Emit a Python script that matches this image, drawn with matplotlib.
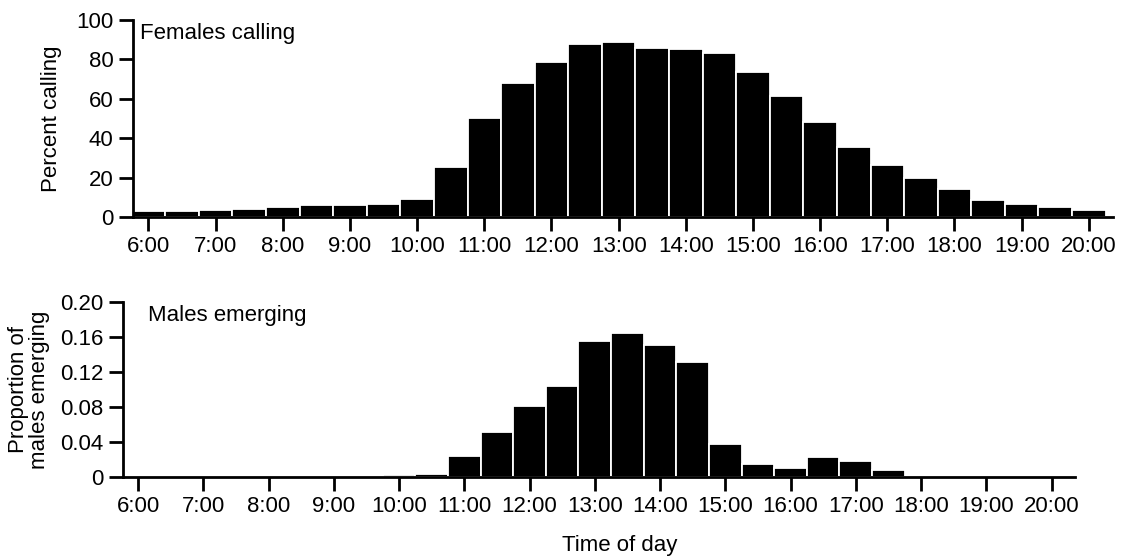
import numpy as np
import matplotlib
matplotlib.use('Agg')
import matplotlib.pyplot as plt
from matplotlib.ticker import FuncFormatter

plt.rcParams['font.family'] = ['Liberation Sans', 'DejaVu Sans']

# half-hour bins from 6:00 to 20:00 (hours)
hours = np.arange(6, 20.01, 0.5)
hour_ticks = list(range(6, 21))
hour_labels = ['%d:00' % h for h in hour_ticks]

females = [3.0, 3.0, 3.4, 4.0, 5.2, 5.9, 5.9, 6.6, 9.0, 25.4, 50.5, 68.0, 78.5,
           88.0, 88.7, 86.0, 85.2, 83.5, 73.4, 61.4, 48.4, 35.4, 26.6, 19.6,
           14.4, 8.6, 6.8, 4.9, 3.7]
males = [0, 0, 0, 0, 0, 0, 0, 0, 0.002, 0.0038, 0.0243, 0.0516, 0.0812,
         0.1036, 0.1552, 0.1647, 0.1507, 0.1317, 0.0372, 0.0144, 0.0102,
         0.0224, 0.0186, 0.0076, 0, 0, 0, 0, 0]

W, H = 1132, 556
fig = plt.figure(figsize=(W / 100, H / 100), dpi=100)

def box(l, r, t, b):
    return [l / W, 1 - b / H, (r - l) / W, (b - t) / H]

ax1 = fig.add_axes(box(133, 1113, 20, 217))
ax2 = fig.add_axes(box(123, 1075, 302, 477))

fs = 16
for ax, vals in [(ax1, females), (ax2, males)]:
    ax.bar(hours, vals, width=0.5, color='black', edgecolor='white', linewidth=1.3)
    ax.set_xlim(5.77, 20.36)
    ax.set_xticks(hour_ticks)
    ax.set_xticklabels(hour_labels)
    for s in ['top', 'right']:
        ax.spines[s].set_visible(False)
    for s in ['left', 'bottom']:
        ax.spines[s].set_linewidth(2)
    ax.tick_params(direction='out', length=10, width=2, labelsize=fs, pad=4)

ax1.set_ylim(0, 100)
ax1.set_yticks([0, 20, 40, 60, 80, 100])
ax1.set_ylabel('Percent calling', fontsize=fs, labelpad=10)
ax1.text(0.007, 0.93, 'Females calling', transform=ax1.transAxes, fontsize=fs,
         va='center', ha='left')

ax2.set_ylim(0, 0.2)
ax2.set_yticks([0, 0.04, 0.08, 0.12, 0.16, 0.20])
ax2.yaxis.set_major_formatter(FuncFormatter(lambda v, p: '0' if v == 0 else '%.2f' % v))
ax2.set_ylabel('Proportion of\nmales emerging', fontsize=fs, labelpad=7, linespacing=1.05)
ax2.text(0.026, 0.92, 'Males emerging', transform=ax2.transAxes, fontsize=fs,
         va='center', ha='left')
ax2.set_xlabel('Time of day', fontsize=fs, labelpad=10)
ax2.xaxis.set_label_coords(0.522, -0.33)

fig.savefig('out.png', dpi=100)
